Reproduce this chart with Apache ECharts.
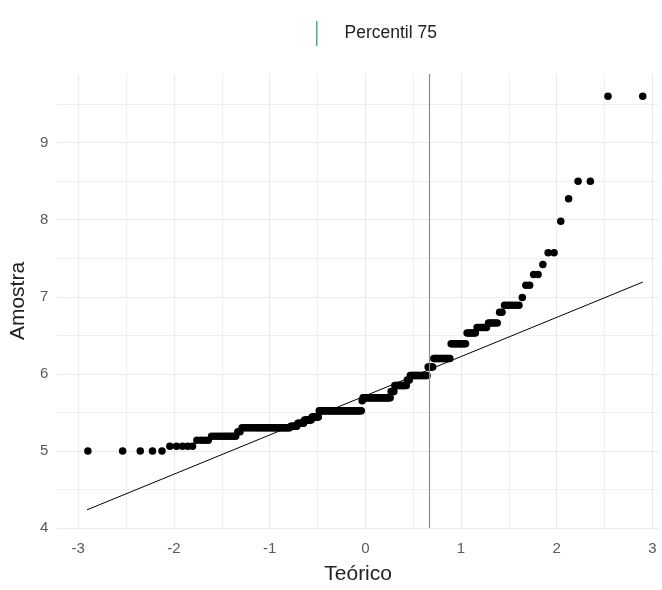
<!DOCTYPE html>
<html><head><meta charset="utf-8">
<script src="https://cdn.jsdelivr.net/npm/echarts@6/dist/echarts.min.js"></script>
<style>html,body{margin:0;padding:0;background:#fff}#c{width:662px;height:590px}</style>
</head><body><div id="c"></div>
<script>
const sampleValues = [5.00, 5.06, 5.14, 5.19, 5.25, 5.30, 5.32, 5.36, 5.40, 5.44, 5.52, 5.65, 5.69, 5.77, 5.85, 5.92, 5.98, 6.09, 6.20, 6.39, 6.53, 6.60, 6.66, 6.80, 6.89, 6.99, 7.15, 7.29, 7.42, 7.57, 7.98, 8.27, 8.50, 9.60];
const sampleCounts = [5, 5, 4, 10, 2, 32, 6, 6, 7, 7, 46, 1, 31, 4, 13, 3, 17, 5, 14, 11, 6, 6, 5, 2, 6, 1, 2, 2, 1, 2, 1, 1, 2, 2];
// Reference line (qq line) end points
const qqLineX = [-2.91, 2.90];
const qqLineY = [4.235, 7.19];
// Vertical line: 75th percentile of the theoretical distribution
const percentileName = 'Percentil 75';
const percentileX = [0.674];
// Axis ticks / grid
const xTicks = [-3, -2, -1, 0, 1, 2, 3];
const xMinor = [-2.5, -1.5, -0.5, 0.5, 1.5, 2.5];
const yTicks = [4, 5, 6, 7, 8, 9];
const yMinor = [4.5, 5.5, 6.5, 7.5, 8.5, 9.5];
const xTitle = 'Teórico';
const yTitle = 'Amostra';

// Standard normal quantile (Acklam)
function qnorm(p) {
  const a = [-3.969683028665376e+01, 2.209460984245205e+02, -2.759285104469687e+02, 1.383577518672690e+02, -3.066479806614716e+01, 2.506628277459239e+00];
  const b = [-5.447609879822406e+01, 1.615858368580409e+02, -1.556989798598866e+02, 6.680131188771972e+01, -1.328068155288572e+01];
  const c = [-7.784894002430293e-03, -3.223964580411365e-01, -2.400758277161838e+00, -2.549732539343734e+00, 4.374664141464968e+00, 2.938163982698783e+00];
  const d = [7.784695709041462e-03, 3.224671290700398e-01, 2.445134137142996e+00, 3.754408661907416e+00];
  const plow = 0.02425, phigh = 1 - plow;
  let q, r;
  if (p < plow) {
    q = Math.sqrt(-2 * Math.log(p));
    return (((((c[0]*q+c[1])*q+c[2])*q+c[3])*q+c[4])*q+c[5]) / ((((d[0]*q+d[1])*q+d[2])*q+d[3])*q+1);
  } else if (p <= phigh) {
    q = p - 0.5; r = q * q;
    return (((((a[0]*r+a[1])*r+a[2])*r+a[3])*r+a[4])*r+a[5])*q / (((((b[0]*r+b[1])*r+b[2])*r+b[3])*r+b[4])*r+1);
  } else {
    q = Math.sqrt(-2 * Math.log(1 - p));
    return -(((((c[0]*q+c[1])*q+c[2])*q+c[3])*q+c[4])*q+c[5]) / ((((d[0]*q+d[1])*q+d[2])*q+d[3])*q+1);
  }
}

// Build the normal Q-Q points (sorted sample vs theoretical quantiles, ppoints)
const sample = [];
sampleValues.forEach((v, k) => { for (let j = 0; j < sampleCounts[k]; j++) sample.push(v); });
const n = sample.length;
const off = n <= 10 ? 3 / 8 : 0.5;
const qqPoints = sample.map((v, i) => [qnorm((i + 1 - off) / (n + 1 - 2 * off)), v]);

const FONT = "'Liberation Sans', Arial, sans-serif";
const GRID_MAJOR = { color: '#ebebeb', width: 1.2, type: 'solid' };
const GRID_MINOR = { color: '#f0f0f0', width: 1, type: 'solid' };
const isTick = (v, ticks) => ticks.some(t => Math.abs(t - v) < 1e-6);

const gridLines = [
  ...xMinor.map(v => ({ xAxis: v, lineStyle: GRID_MINOR })),
  ...yMinor.map(v => ({ yAxis: v, lineStyle: GRID_MINOR })),
  ...xTicks.map(v => ({ xAxis: v, lineStyle: GRID_MAJOR })),
  ...yTicks.map(v => ({ yAxis: v, lineStyle: GRID_MAJOR }))
];

const chart = echarts.init(document.getElementById('c'), null, { renderer: 'canvas' });
chart.setOption({
  animation: false,
  backgroundColor: '#ffffff',
  textStyle: { fontFamily: FONT },
  legend: {
    data: [percentileName],
    left: 311, top: 16,
    icon: 'rect', itemWidth: 1.5, itemHeight: 25,
    textStyle: { fontSize: 17.5, color: '#222', fontFamily: FONT, padding: [0, 0, 0, 22] },
    selectedMode: false
  },
  grid: { left: 56, right: 0, top: 74, bottom: 55, containLabel: false },
  xAxis: {
    type: 'value', min: -3.22, max: 3.07, splitNumber: 6,
    axisLine: { show: false }, axisTick: { show: false }, splitLine: { show: false },
    axisLabel: { color: '#5a5a5a', fontSize: 15, margin: 13, fontFamily: FONT,
      formatter: v => isTick(v, xTicks) ? String(Math.round(v)) : '' },
    name: xTitle, nameLocation: 'middle', nameGap: 36,
    nameTextStyle: { fontSize: 21, color: '#222', fontFamily: FONT }
  },
  yAxis: {
    type: 'value', min: 4, max: 9.89, splitNumber: 6,
    axisLine: { show: false }, axisTick: { show: false }, splitLine: { show: false },
    axisLabel: { color: '#5a5a5a', fontSize: 15, margin: 9, fontFamily: FONT,
      formatter: v => isTick(v, yTicks) ? String(Math.round(v)) : '' },
    name: yTitle, nameLocation: 'middle', nameGap: 15,
    nameTextStyle: { fontSize: 21, color: '#222', fontFamily: FONT }
  },
  series: [
    {
      name: 'grid', type: 'line', data: [], z: 1, silent: true,
      markLine: { silent: true, z: 1, symbol: ['none', 'none'], label: { show: false }, animation: false, data: gridLines }
    },
    {
      name: 'Amostra', type: 'scatter', data: qqPoints, z: 2,
      symbolSize: 7.5, itemStyle: { color: '#000000', opacity: 1 }, silent: true
    },
    {
      name: 'qqline', type: 'line', z: 3, silent: true,
      data: qqLineX.map((x, i) => [x, qqLineY[i]]),
      showSymbol: false, symbol: 'none',
      lineStyle: { color: '#000000', width: 1 }
    },
    {
      name: percentileName, type: 'line', data: [], z: 4, silent: true,
      color: '#5F9EA0', itemStyle: { color: '#5F9EA0' }, lineStyle: { color: '#5F9EA0' },
      markLine: {
        silent: true, z: 5, symbol: ['none', 'none'], label: { show: false }, animation: false,
        lineStyle: { color: '#5F9EA0', width: 1.2, type: 'solid' },
        data: percentileX.map(v => ({ xAxis: v }))
      }
    }
  ]
});
</script></body></html>
